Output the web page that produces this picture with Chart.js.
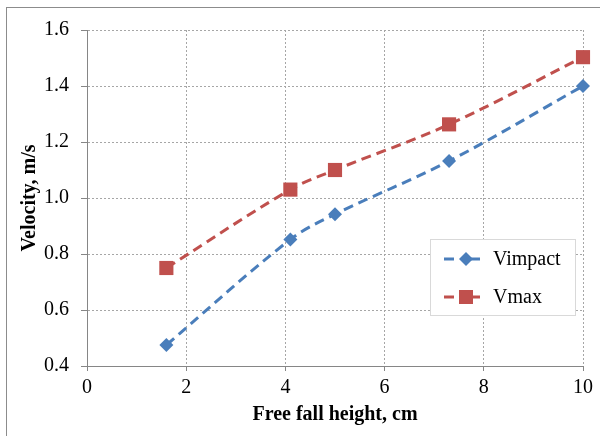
<!DOCTYPE html>
<html><head><meta charset="utf-8">
<script src="https://cdn.jsdelivr.net/npm/chart.js@4"></script>
<style>html,body{margin:0;padding:0;background:#fff}#wrap{width:600px;height:436px;position:relative}</style>
</head><body><div id="wrap"><canvas id="c" width="600" height="436"></canvas></div>
<script>
const heights = [1.6, 4.1, 5.0, 7.3, 10];
const vImpact = [0.475, 0.852, 0.942, 1.132, 1.40];
const vMax = [0.75, 1.03, 1.10, 1.263, 1.503];
const seriesNames = ['Vimpact', 'Vmax'];
const xTicks = [0, 2, 4, 6, 8, 10];
const yTicks = [0.4, 0.6, 0.8, 1.0, 1.2, 1.4, 1.6];
const xTitle = 'Free fall height, cm';
const yTitle = 'Velocity, m/s';

const BLUE = '#4A7EBB', RED = '#C0504D';
const FONT = '"Liberation Serif", "Times New Roman", serif';

const frame = {
  id: 'frame',
  beforeDraw(chart) {
    const ctx = chart.ctx;
    ctx.save();
    ctx.fillStyle = '#fff';
    ctx.fillRect(0, 0, chart.width, chart.height);
    ctx.strokeStyle = '#8c8c8c';
    ctx.lineWidth = 1;
    ctx.strokeRect(6.5, 7.5, 620, 460);
    ctx.restore();
  }
};

function marker(ctx, style, x, y, color) {
  ctx.fillStyle = color;
  ctx.beginPath();
  if (style === 'rect') {
    ctx.rect(x - 7, y - 7, 14, 14);
  } else {
    ctx.moveTo(x - 7, y); ctx.lineTo(x, y - 7); ctx.lineTo(x + 7, y); ctx.lineTo(x, y + 7); ctx.closePath();
  }
  ctx.fill();
}

const legendBox = {
  id: 'legendBox',
  afterDraw(chart) {
    const ctx = chart.ctx;
    ctx.save();
    ctx.fillStyle = '#fff';
    ctx.fillRect(430.5, 239.5, 145, 76);
    ctx.strokeStyle = '#d9d9d9'; ctx.lineWidth = 1;
    ctx.strokeRect(430.5, 239.5, 145, 76);
    chart.data.datasets.forEach((ds, i) => {
      const y = 259 + i * 38;
      ctx.strokeStyle = ds.borderColor; ctx.lineWidth = 3; ctx.setLineDash([]);
      ctx.beginPath();
      ctx.moveTo(444, y); ctx.lineTo(454, y);
      ctx.moveTo(470, y); ctx.lineTo(480, y);
      ctx.stroke();
      marker(ctx, ds.pointStyle, 466, y, ds.pointBackgroundColor);
      ctx.fillStyle = '#000';
      ctx.font = '20px ' + FONT;
      ctx.textBaseline = 'middle';
      ctx.fillText(ds.label, 493, y + 1);
    });
    ctx.restore();
  }
};

const mk = (arr) => heights.map((h, i) => ({x: h, y: arr[i]}));

new Chart(document.getElementById('c'), {
  type: 'scatter',
  data: {
    datasets: [
      { label: seriesNames[0], data: mk(vImpact), showLine: true, borderColor: BLUE, backgroundColor: BLUE,
        pointBackgroundColor: BLUE, pointBorderColor: BLUE, pointStyle: 'rectRot', pointRadius: 7, pointBorderWidth: 0,
        borderWidth: 3, borderDash: [10, 6], tension: 0.35, clip: false },
      { label: seriesNames[1], data: mk(vMax), showLine: true, borderColor: RED, backgroundColor: RED,
        pointBackgroundColor: RED, pointBorderColor: RED, pointStyle: 'rect', pointRadius: 10, pointBorderWidth: 0,
        borderWidth: 3, borderDash: [10, 6], tension: 0.35, clip: false }
    ]
  },
  options: {
    responsive: false,
    animation: false,
    layout: { padding: { left: 0, right: 17, top: 30, bottom: 0 } },
    plugins: { legend: { display: false }, tooltip: { enabled: false } },
    scales: {
      x: {
        type: 'linear', min: 0, max: 10,
        afterBuildTicks: s => { s.ticks = xTicks.map(v => ({value: v})); },
        afterFit: s => { s.height = 70; },
        ticks: { color: '#000', font: { family: FONT, size: 20 }, padding: 5, maxRotation: 0 },
        grid: { color: '#a6a6a6', lineWidth: 1, tickLength: 5, tickColor: '#868686', tickBorderDash: [] },
        border: { color: '#868686', width: 1, dash: [2, 2] },
        title: { display: true, text: xTitle, color: '#000', font: { family: FONT, size: 20, weight: 'bold' }, padding: { top: 0, bottom: 9 } }
      },
      y: {
        type: 'linear', min: 0.4, max: 1.6,
        afterBuildTicks: s => { s.ticks = yTicks.map(v => ({value: v})); },
        afterFit: s => { s.width = 87; },
        ticks: { color: '#000', font: { family: FONT, size: 20 }, padding: 12, callback: v => Number(v).toFixed(1) },
        grid: { color: '#a6a6a6', lineWidth: 1, tickLength: 6, tickColor: '#868686', tickBorderDash: [] },
        border: { color: '#868686', width: 1, dash: [2, 2] },
        title: { display: true, text: yTitle, color: '#000', font: { family: FONT, size: 20, weight: 'bold' }, padding: { top: 18, bottom: 0 } }
      }
    }
  },
  plugins: [frame, legendBox]
});
</script></body></html>
